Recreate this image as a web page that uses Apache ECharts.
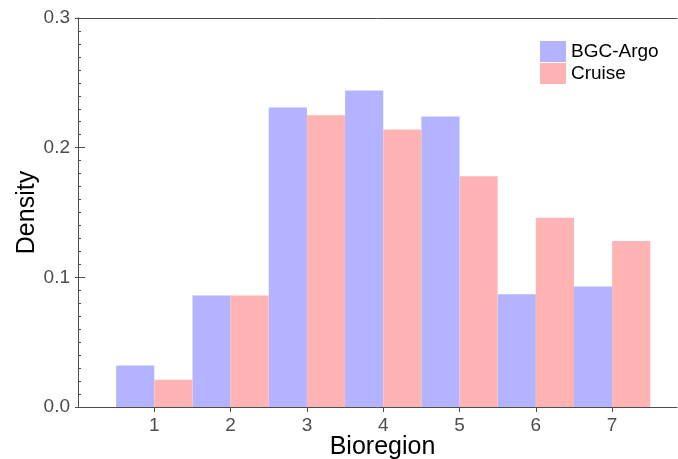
<!DOCTYPE html>
<html>
<head>
<meta charset="utf-8">
<script src="https://cdn.jsdelivr.net/npm/echarts@6/dist/echarts.min.js"></script>
<style>html,body{margin:0;padding:0;background:#fff}#c{width:678px;height:459px}</style>
</head>
<body>
<div id="c"></div>
<script>
const categories = [1, 2, 3, 4, 5, 6, 7];
const argo = [0.032, 0.086, 0.231, 0.244, 0.224, 0.087, 0.093];
const cruise = [0.021, 0.086, 0.225, 0.214, 0.178, 0.146, 0.128];
const yTicks = [0, 0.1, 0.2, 0.3];

const FONT = 'Liberation Sans, Arial, sans-serif';
const AX = '#4d4d4d';
const chart = echarts.init(document.getElementById('c'));
chart.setOption({
  animation: false,
  textStyle: { fontFamily: FONT },
  grid: { left: 78, right: 1, top: 18, bottom: 52, containLabel: false, outerBoundsMode: 'none' },
  legend: {
    orient: 'vertical', left: 535, top: 36, itemWidth: 26, itemHeight: 21, itemGap: 1,
    icon: 'rect', textStyle: { fontSize: 19, color: '#000', fontFamily: FONT },
    data: ['BGC-Argo', 'Cruise']
  },
  xAxis: [{
    type: 'value', min: 0, max: 7.85, interval: 1,
    name: 'Bioregion', nameLocation: 'middle', nameGap: 28, nameMoveOverlap: false,
    nameTextStyle: { fontSize: 25, color: '#000', fontFamily: FONT, padding: [0, 0, 0, 10] },
    axisLine: { show: true, lineStyle: { color: AX, width: 1 } },
    axisTick: { show: true, length: 5, customValues: categories, lineStyle: { color: AX } },
    axisLabel: { customValues: categories, fontSize: 19, color: AX, margin: 9, fontFamily: FONT },
    splitLine: { show: false }
  }, {
    type: 'value', position: 'top', min: 0, max: 7.85,
    axisLine: { show: true, onZero: false, lineStyle: { color: AX, width: 1 } },
    axisTick: { show: false }, axisLabel: { show: false }, splitLine: { show: false }
  }],
  yAxis: [{
    type: 'value', min: 0, max: 0.3, interval: 0.1,
    name: 'Density', nameLocation: 'middle', nameGap: 38, nameMoveOverlap: false,
    nameTextStyle: { fontSize: 25, color: '#000', fontFamily: FONT },
    axisLine: { show: true, lineStyle: { color: AX, width: 1 } },
    axisTick: { show: true, inside: true, length: 7, lineStyle: { color: AX } },
    minorTick: { show: true, splitNumber: 10, length: 3, lineStyle: { color: AX } },
    axisLabel: { fontSize: 19, color: AX, margin: 8, fontFamily: FONT,
      formatter: v => v.toFixed(1) },
    splitLine: { show: false }
  }, {
    type: 'value', min: 0, max: 0.3, interval: 0.1, position: 'left', offset: 0,
    axisLine: { show: true, onZero: false, lineStyle: { color: AX, width: 1 } },
    axisTick: { show: true, inside: false, length: 3, lineStyle: { color: AX } },
    axisLabel: { show: false }, splitLine: { show: false }
  }],
  series: [{
    name: 'BGC-Argo', type: 'bar', xAxisIndex: 0, yAxisIndex: 0,
    barGap: '0%', barCategoryGap: '0%',
    itemStyle: { color: '#b3b3ff' },
    data: categories.map((c, i) => [c, argo[i]])
  }, {
    name: 'Cruise', type: 'bar', xAxisIndex: 0, yAxisIndex: 0,
    barGap: '0%', barCategoryGap: '0%',
    itemStyle: { color: '#ffb3b3' },
    data: categories.map((c, i) => [c, cruise[i]])
  }]
});
</script>
</body>
</html>
